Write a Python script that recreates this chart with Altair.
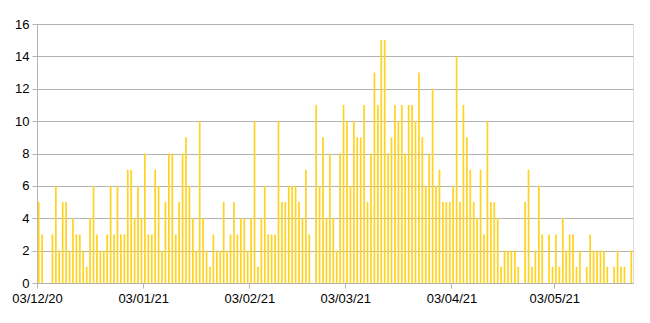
import altair as alt
import pandas as pd

# Daily counts from 03/12/20 to 25/05/21 (one value per day)
counts = [
    5, 3, 0, 0, 3, 6, 2, 5, 5, 2, 4, 3, 3, 2, 1, 4, 6, 3, 2, 2,
    3, 6, 3, 6, 3, 3, 7, 7, 4, 6, 4, 8, 3, 3, 7, 6, 2, 5, 8, 8,
    3, 5, 8, 9, 6, 4, 2, 10, 4, 2, 1, 3, 2, 2, 5, 2, 3, 5, 3, 4,
    4, 2, 4, 10, 1, 4, 6, 3, 3, 3, 10, 5, 5, 6, 6, 6, 5, 4, 7, 3,
    0, 11, 6, 9, 4, 8, 4, 2, 8, 11, 10, 6, 10, 9, 9, 11, 5, 8, 13, 11,
    15, 15, 8, 9, 11, 10, 11, 8, 11, 11, 10, 13, 9, 6, 8, 12, 6, 7, 5, 5,
    5, 6, 14, 5, 11, 9, 7, 5, 4, 7, 3, 10, 5, 5, 4, 1, 2, 2, 2, 2,
    1, 0, 5, 7, 1, 2, 6, 3, 0, 3, 1, 3, 1, 4, 2, 3, 3, 1, 2, 0,
    1, 3, 2, 2, 2, 2, 1, 0, 1, 2, 1, 1, 0, 2,
]
tick_days = [0, 31, 62, 90, 121, 151]
tick_labels = ["03/12/20", "03/01/21", "03/02/21", "03/03/21", "03/04/21", "03/05/21"]
y_ticks = [0, 2, 4, 6, 8, 10, 12, 14, 16]

df = pd.DataFrame({"day": list(range(len(counts))), "count": counts})
df["x0"] = df["day"] + 0.25
df["x1"] = df["day"] + 0.75

label_expr = " : ".join(
    f"datum.value == {d} ? '{l}'" for d, l in zip(tick_days, tick_labels)
) + " : ''"

grid_color = "#b3b3b3"
font = "Liberation Sans"

chart = (
    alt.Chart(df)
    .mark_bar(color="#ffd320")
    .encode(
        x=alt.X(
            "x0:Q",
            scale=alt.Scale(domain=[0, len(counts)], nice=False, zero=False),
            axis=alt.Axis(
                values=tick_days,
                labelExpr=label_expr,
                title=None,
                grid=False,
                tickSize=5,
                tickColor=grid_color,
                domainColor=grid_color,
                labelPadding=4,
                labelFontSize=13,
                labelColor="#000000",
                labelFont=font,
                labelFlush=False,
                labelOverlap=False,
            ),
        ),
        x2="x1:Q",
        y=alt.Y(
            "count:Q",
            scale=alt.Scale(domain=[0, 16], nice=False),
            axis=alt.Axis(
                values=y_ticks,
                title=None,
                grid=True,
                gridColor=grid_color,
                tickSize=5,
                tickColor=grid_color,
                domainColor=grid_color,
                labelPadding=3,
                labelFontSize=13,
                labelColor="#000000",
                labelFont=font,
            ),
        ),
        y2=alt.datum(0),
    )
    .properties(
        width=596,
        height=259,
        autosize=alt.AutoSizeParams(type="none"),
        padding={"left": 37, "top": 24, "right": 17, "bottom": 40},
    )
    .configure_view(stroke=grid_color, strokeWidth=1)
    .configure(background="#ffffff")
)

chart.save("out.html", embed_options={"renderer": "svg", "actions": False})
